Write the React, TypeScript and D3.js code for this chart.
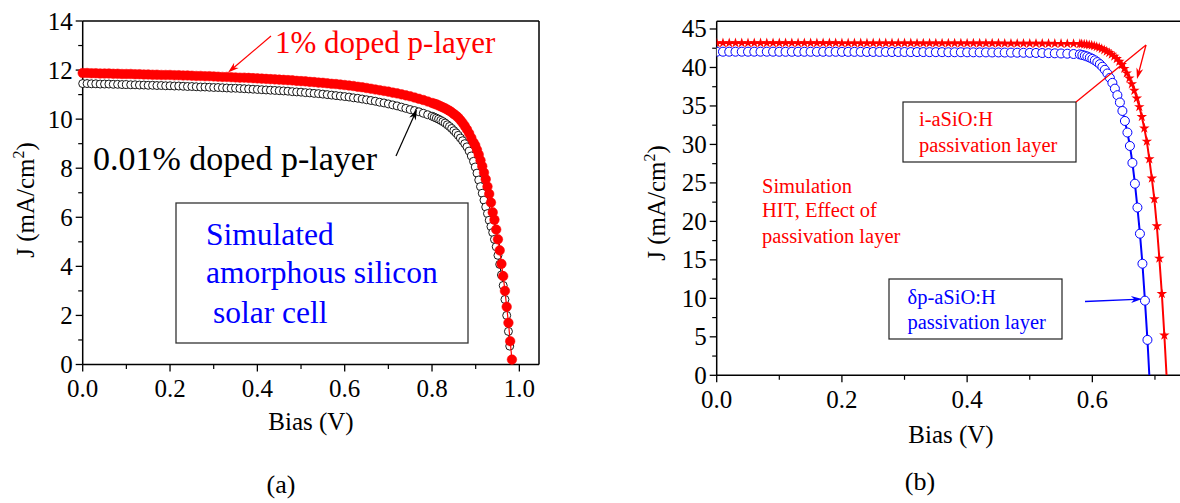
import React from "react";
import * as d3 from "d3";

// ---------------- Data ----------------
// (a) amorphous silicon cell, bias in V, J in mA/cm2
const leftVFlat = [
  0, 0.01, 0.02, 0.03, 0.04, 0.05, 0.06, 0.07, 0.08, 0.09,
  0.1, 0.11, 0.12, 0.13, 0.14, 0.15, 0.16, 0.17, 0.18, 0.19,
  0.2, 0.21, 0.22, 0.23, 0.24, 0.25, 0.26, 0.27, 0.28, 0.29,
  0.3, 0.31, 0.32, 0.33, 0.34, 0.35, 0.36, 0.37, 0.38, 0.39,
  0.4, 0.41, 0.42, 0.43, 0.44, 0.45, 0.46, 0.47, 0.48, 0.49,
  0.5, 0.51, 0.52, 0.53, 0.54, 0.55, 0.56, 0.57, 0.58, 0.59,
  0.6, 0.61, 0.62, 0.63, 0.64, 0.65, 0.66, 0.67, 0.68, 0.69,
  0.7, 0.71, 0.72, 0.73, 0.74, 0.75, 0.76, 0.77, 0.78, 0.79,
  0.8,
];
const leftVKnee = [
  0.805, 0.81, 0.815, 0.82, 0.825, 0.83, 0.835, 0.84, 0.845, 0.85,
  0.855, 0.86, 0.865, 0.87, 0.875, 0.88, 0.885, 0.89, 0.895,
];
const leftVSteep1pct = [
  0.899, 0.903, 0.907, 0.911, 0.915, 0.919, 0.923, 0.927, 0.931, 0.935,
  0.939, 0.943, 0.947, 0.951, 0.955, 0.959, 0.963, 0.967, 0.971, 0.975,
  0.979, 0.983,
];
const leftVSteep001pct = [
  0.899, 0.903, 0.907, 0.911, 0.915, 0.919, 0.923, 0.927, 0.931, 0.935,
  0.939, 0.943, 0.947, 0.951, 0.955, 0.959, 0.963, 0.967, 0.971, 0.975,
  0.978,
];
const leftJ1pct = [
  11.88, 11.88, 11.87, 11.87, 11.86, 11.86, 11.86, 11.85, 11.85, 11.84,
  11.84, 11.84, 11.83, 11.83, 11.82, 11.82, 11.81, 11.81, 11.8, 11.8,
  11.8, 11.79, 11.79, 11.78, 11.78, 11.77, 11.76, 11.76, 11.75, 11.75,
  11.74, 11.73, 11.72, 11.72, 11.71, 11.7, 11.69, 11.69, 11.68, 11.67,
  11.66, 11.65, 11.64, 11.63, 11.62, 11.61, 11.6, 11.59, 11.58, 11.56,
  11.55, 11.54, 11.52, 11.51, 11.49, 11.48, 11.46, 11.44, 11.43, 11.41,
  11.39, 11.37, 11.35, 11.32, 11.3, 11.27, 11.24, 11.21, 11.18, 11.15,
  11.12, 11.08, 11.05, 11.01, 10.97, 10.93, 10.88, 10.83, 10.78, 10.72,
  10.66,
  10.63, 10.6, 10.56, 10.52, 10.48, 10.44, 10.39, 10.34, 10.28, 10.21,
  10.14, 10.06, 9.96, 9.85, 9.72, 9.58, 9.42, 9.24, 9.05,
  8.93, 8.75, 8.55, 8.32, 8.08, 7.82, 7.55, 7.25, 6.95, 6.6,
  6.2, 5.9, 5.5, 5.1, 4.65, 4.1, 3.6, 3.0, 2.35, 1.7,
  0.95, 0.2,
];
const leftJ001pct = [
  11.45, 11.45, 11.44, 11.44, 11.43, 11.43, 11.43, 11.42, 11.42, 11.41,
  11.41, 11.4, 11.4, 11.39, 11.39, 11.38, 11.38, 11.37, 11.37, 11.36,
  11.36, 11.35, 11.35, 11.34, 11.33, 11.33, 11.32, 11.31, 11.31, 11.3,
  11.29, 11.29, 11.28, 11.27, 11.26, 11.26, 11.25, 11.24, 11.23, 11.22,
  11.21, 11.2, 11.19, 11.18, 11.17, 11.16, 11.15, 11.14, 11.12, 11.11,
  11.1, 11.08, 11.07, 11.05, 11.04, 11.02, 11.0, 10.98, 10.96, 10.94,
  10.92, 10.9, 10.87, 10.85, 10.82, 10.79, 10.76, 10.73, 10.69, 10.66,
  10.62, 10.58, 10.54, 10.49, 10.44, 10.39, 10.35, 10.3, 10.24, 10.18,
  10.12,
  10.08, 10.04, 10.0, 9.95, 9.9, 9.84, 9.77, 9.7, 9.62, 9.53,
  9.44, 9.34, 9.23, 9.12, 9.0, 8.87, 8.7, 8.5, 8.28,
  8.05, 7.8, 7.52, 7.25, 6.98, 6.7, 6.42, 6.15, 5.88, 5.62,
  5.38, 5.1, 4.8, 4.45, 4.08, 3.65, 3.22, 2.65, 2.0, 1.35,
  0.75,
];

// (b) HIT cell
const rightVFlatBlue = [
  0, 0.01, 0.02, 0.03, 0.04, 0.05, 0.06, 0.07, 0.08, 0.09,
  0.1, 0.11, 0.12, 0.13, 0.14, 0.15, 0.16, 0.17, 0.18, 0.19,
  0.2, 0.21, 0.22, 0.23, 0.24, 0.25, 0.26, 0.27, 0.28, 0.29,
  0.3, 0.31, 0.32, 0.33, 0.34, 0.35, 0.36, 0.37, 0.38, 0.39,
  0.4, 0.41, 0.42, 0.43, 0.44, 0.45, 0.46, 0.47, 0.48, 0.49,
  0.5, 0.51, 0.52, 0.53, 0.54, 0.55, 0.56, 0.57,
];
const rightVSteepBlue = [
  0.58, 0.584, 0.588, 0.592, 0.596, 0.6, 0.604, 0.608, 0.612, 0.616,
  0.62, 0.624, 0.628, 0.632, 0.636, 0.64, 0.644, 0.648, 0.652, 0.656,
  0.66, 0.664, 0.668, 0.672, 0.676, 0.68, 0.684, 0.688, 0.691,
];
const rightJBlue = [
  42.05, 42.05, 42.05, 42.05, 42.05, 42.05, 42.05, 42.05, 42.05, 42.05,
  42.04, 42.04, 42.04, 42.04, 42.04, 42.04, 42.04, 42.04, 42.04, 42.04,
  42.03, 42.03, 42.03, 42.03, 42.02, 42.02, 42.02, 42.02, 42.01, 42.01,
  42.01, 42.0, 42.0, 42.0, 41.99, 41.99, 41.99, 41.98, 41.98, 41.98,
  41.97, 41.97, 41.96, 41.96, 41.95, 41.95, 41.94, 41.93, 41.92, 41.91,
  41.9, 41.89, 41.88, 41.86, 41.84, 41.82, 41.79, 41.75,
  41.7, 41.62, 41.53, 41.42, 41.28, 41.12, 40.93, 40.7, 40.43, 40.1,
  39.7, 39.22, 38.65, 38.0, 37.25, 36.4, 35.45, 34.35, 33.05, 31.55,
  29.8, 27.6, 24.9, 21.8, 18.4, 14.5, 9.7, 4.6, 0,
];
const rightVFlatRed = [
  0, 0.01, 0.02, 0.03, 0.04, 0.05, 0.06, 0.07, 0.08, 0.09,
  0.1, 0.11, 0.12, 0.13, 0.14, 0.15, 0.16, 0.17, 0.18, 0.19,
  0.2, 0.21, 0.22, 0.23, 0.24, 0.25, 0.26, 0.27, 0.28, 0.29,
  0.3, 0.31, 0.32, 0.33, 0.34, 0.35, 0.36, 0.37, 0.38, 0.39,
  0.4, 0.41, 0.42, 0.43, 0.44, 0.45, 0.46, 0.47, 0.48, 0.49,
  0.5, 0.51, 0.52, 0.53, 0.54, 0.55, 0.56, 0.57, 0.58,
];
const rightVSteepRed = [
  0.583, 0.587, 0.591, 0.595, 0.599, 0.603, 0.607, 0.611, 0.615, 0.619,
  0.623, 0.627, 0.631, 0.635, 0.639, 0.643, 0.647, 0.651, 0.655, 0.659,
  0.663, 0.667, 0.671, 0.675, 0.679, 0.683, 0.687, 0.691, 0.695, 0.699,
  0.703, 0.707, 0.711, 0.715, 0.7185,
];
const rightJRed = [
  43.18, 43.18, 43.18, 43.18, 43.18, 43.18, 43.18, 43.18, 43.18, 43.18,
  43.18, 43.18, 43.18, 43.18, 43.18, 43.18, 43.18, 43.18, 43.18, 43.18,
  43.17, 43.17, 43.17, 43.17, 43.17, 43.17, 43.17, 43.17, 43.17, 43.17,
  43.17, 43.17, 43.16, 43.16, 43.16, 43.16, 43.16, 43.15, 43.15, 43.15,
  43.15, 43.15, 43.14, 43.14, 43.14, 43.14, 43.13, 43.13, 43.13, 43.12,
  43.12, 43.12, 43.11, 43.11, 43.1, 43.1, 43.09, 43.08, 43.07,
  43.05, 43.02, 42.98, 42.93, 42.88, 42.8, 42.7, 42.58, 42.44, 42.28,
  42.1, 41.92, 41.7, 41.44, 41.13, 40.77, 40.35, 39.85, 39.27, 38.6,
  37.85, 37.0, 36.0, 34.88, 33.6, 32.1, 30.4, 28.1, 25.6, 22.9,
  19.4, 15.2, 10.6, 5.2, 0,
];

// ticks
const leftXTicks = [0, 0.2, 0.4, 0.6, 0.8, 1.0];
const leftXMinor = [0.1, 0.3, 0.5, 0.7, 0.9];
const leftYTicks = [0, 2, 4, 6, 8, 10, 12, 14];
const leftYMinor = [1, 3, 5, 7, 9, 11, 13];
const rightXTicks = [0, 0.2, 0.4, 0.6];
const rightXMinor = [0.1, 0.3, 0.5, 0.7];
const rightYTicks = [0, 5, 10, 15, 20, 25, 30, 35, 40, 45];
const rightYMinor = [2.5, 7.5, 12.5, 17.5, 22.5, 27.5, 32.5, 37.5, 42.5];

// ---------------- Drawing ----------------
const FONT = "'Liberation Serif', 'Times New Roman', Times, serif";
const RED = "#ff0000";
const BLUE = "#0000ff";

type Pt = [number, number];
const zip = (v: number[], j: number[]): Pt[] => v.map((x, i) => [x, j[i]]);

function arrowHead(x1: number, y1: number, x2: number, y2: number, len = 11, hw = 3.5) {
  const a = Math.atan2(y2 - y1, x2 - x1);
  const c = Math.cos(a), s = Math.sin(a);
  const bx = x2 - len * c, by = y2 - len * s;
  const ix = x2 - len * 0.7 * c, iy = y2 - len * 0.7 * s;
  return `M${x2},${y2}L${bx - hw * s},${by + hw * c}L${ix},${iy}L${bx + hw * s},${by - hw * c}Z`;
}

function Arrow({ x1, y1, x2, y2, color, w = 1.2 }: any) {
  const a = Math.atan2(y2 - y1, x2 - x1);
  const ex = x2 - 7 * Math.cos(a), ey = y2 - 7 * Math.sin(a);
  return (
    <g>
      <line x1={x1} y1={y1} x2={ex} y2={ey} stroke={color} strokeWidth={w} />
      <path d={arrowHead(x1, y1, x2, y2)} fill={color} />
    </g>
  );
}

function Axes({ x, y, xTicks, xMinor, yTicks, yMinor, fmtX, fmtY, topRight }: any) {
  const [x0, x1] = x.range();
  const [y0, y1] = y.range();
  return (
    <g fontFamily={FONT} fill="#000">
      <line x1={x0} x2={x1} y1={y1} y2={y1} stroke="#000" strokeWidth={1.5} />
      {topRight && <line x1={x1} x2={x1} y1={y1} y2={y0} stroke="#000" strokeWidth={1.5} />}
      <line x1={x0} x2={x0} y1={y1} y2={y0} stroke="#000" strokeWidth={1.5} />
      <line x1={x0} x2={x1} y1={y0} y2={y0} stroke="#000" strokeWidth={1.5} />
      {xTicks.map((t: number) => (
        <g key={"xt" + t}>
          <line x1={x(t)} x2={x(t)} y1={y0} y2={y0 + 7} stroke="#000" strokeWidth={1.3} />
          <text x={x(t)} y={y0 + 32.5} fontSize={25} textAnchor="middle">{fmtX(t)}</text>
        </g>
      ))}
      {xMinor.map((t: number) => (
        <line key={"xm" + t} x1={x(t)} x2={x(t)} y1={y0} y2={y0 + 4.5} stroke="#000" strokeWidth={1.2} />
      ))}
      {yTicks.map((t: number) => (
        <g key={"yt" + t}>
          <line x1={x0 - 7} x2={x0} y1={y(t)} y2={y(t)} stroke="#000" strokeWidth={1.3} />
          <text x={x0 - 10} y={y(t) + 8.5} fontSize={25} textAnchor="end">{fmtY(t)}</text>
        </g>
      ))}
      {yMinor.map((t: number) => (
        <line key={"ym" + t} x1={x0 - 4.5} x2={x0} y1={y(t)} y2={y(t)} stroke="#000" strokeWidth={1.2} />
      ))}
    </g>
  );
}

function YLabel({ x, y }: { x: number; y: number }) {
  return (
    <text transform={`translate(${x},${y}) rotate(-90)`} textAnchor="middle" fontFamily={FONT} fontSize={25}>
      J (mA/cm<tspan dy={-10} fontSize={16}>2</tspan><tspan dy={10}>)</tspan>
    </text>
  );
}

export default function App() {
  const lx = d3.scaleLinear().domain([0, 1.045]).range([82.7, 539]);
  const ly = d3.scaleLinear().domain([0, 14]).range([364.5, 21]);
  const rx = d3.scaleLinear().domain([0, 0.74]).range([716.7, 1180]);
  const ry = d3.scaleLinear().domain([0, 46]).range([375.3, 21.3]);

  const left1 = zip([...leftVFlat, ...leftVKnee, ...leftVSteep1pct], leftJ1pct);
  const left2 = zip([...leftVFlat, ...leftVKnee, ...leftVSteep001pct], leftJ001pct);
  const rightB = zip([...rightVFlatBlue, ...rightVSteepBlue], rightJBlue);
  const rightR = zip([...rightVFlatRed, ...rightVSteepRed], rightJRed);

  const lineL = d3.line<Pt>().x((d) => lx(d[0])).y((d) => ly(d[1]));
  const lineR = d3.line<Pt>().x((d) => rx(d[0])).y((d) => ry(d[1]));
  const star = d3.symbol().type(d3.symbolStar).size(34)() as string;

  const f1 = d3.format(".1f");
  const f0 = d3.format("d");

  return (
    <svg width={1180} height={503} style={{ position: "absolute", left: 0, top: 0, background: "#fff" }}>
      <defs>
        <clipPath id="clipR">
          <rect x={716.7} y={21.3} width={1180 - 716.7} height={375.3 - 21.3} />
        </clipPath>
      </defs>
      <rect width={1180} height={503} fill="#fff" />

      {/* ---------- (a) ---------- */}
      <Axes x={lx} y={ly} xTicks={leftXTicks} xMinor={leftXMinor} yTicks={leftYTicks} yMinor={leftYMinor}
        fmtX={f1} fmtY={f0} topRight={true} />
      <YLabel x={34} y={200} />
      <text x={311} y={430} fontFamily={FONT} fontSize={25} textAnchor="middle">Bias (V)</text>
      <text x={281} y={493} fontFamily={FONT} fontSize={26} textAnchor="middle">(a)</text>

      <rect x={176} y={203} width={292} height={140} fill="none" stroke="#333" strokeWidth={1.3} />
      <g fontFamily={FONT} fontSize={31.5} fill={BLUE}>
        <text x={206} y={245}>Simulated</text>
        <text x={206} y={283}>amorphous silicon</text>
        <text x={213} y={323}>solar cell</text>
      </g>

      <path d={lineL(left2) as string} fill="none" stroke="#000" strokeWidth={1} />
      {left2.map((d, i) => (
        <circle key={"b" + i} cx={lx(d[0])} cy={ly(d[1])} r={4} fill="#fff" stroke="#000" strokeWidth={0.9} />
      ))}
      <path d={lineL(left1) as string} fill="none" stroke={RED} strokeWidth={1.2} />
      {left1.map((d, i) => (
        <circle key={"r" + i} cx={lx(d[0])} cy={ly(d[1])} r={4.8} fill={RED} stroke={RED} strokeWidth={0.5} />
      ))}

      <text x={275} y={53} fontFamily={FONT} fontSize={31} fill={RED}>1% doped p-layer</text>
      <Arrow x1={271} y1={36} x2={228} y2={72.5} color={RED} />
      <text x={93} y={170} fontFamily={FONT} fontSize={34} fill="#000">0.01% doped p-layer</text>
      <Arrow x1={396} y1={156} x2={417} y2={109} color="#000" />

      {/* ---------- (b) ---------- */}
      <Axes x={rx} y={ry} xTicks={rightXTicks} xMinor={rightXMinor} yTicks={rightYTicks} yMinor={rightYMinor}
        fmtX={f1} fmtY={f0} topRight={false} />
      <YLabel x={665} y={203} />
      <text x={951} y={443} fontFamily={FONT} fontSize={25} textAnchor="middle">Bias (V)</text>
      <text x={920} y={490} fontFamily={FONT} fontSize={26} textAnchor="middle">(b)</text>

      <g clipPath="url(#clipR)">
        <path d={lineR(rightB) as string} fill="none" stroke={BLUE} strokeWidth={2} />
        {rightB.filter((d) => d[1] > 0).map((d, i) => (
          <circle key={"rb" + i} cx={rx(d[0])} cy={ry(d[1])} r={4.5} fill="#fff" stroke={BLUE} strokeWidth={1} />
        ))}
        <path d={lineR(rightR) as string} fill="none" stroke={RED} strokeWidth={2} />
        {rightR.filter((d) => d[1] > 0).map((d, i) => (
          <path key={"rr" + i} d={star} transform={`translate(${rx(d[0])},${ry(d[1])})`} fill={RED} />
        ))}
      </g>

      <g fontFamily={FONT} fontSize={20.5} fill={RED}>
        <text x={762} y={193}>Simulation</text>
        <text x={762} y={217}>HIT, Effect of</text>
        <text x={762} y={243}>passivation layer</text>
      </g>

      <rect x={903} y={102} width={173} height={60} fill="#fff" stroke="#222" strokeWidth={1.2} />
      <g fontFamily={FONT} fontSize={20.5} fill={RED}>
        <text x={919} y={126}>i-aSiO:H</text>
        <text x={919} y={152}>passivation layer</text>
      </g>
      <line x1={1076} y1={102} x2={1146} y2={45} stroke={RED} strokeWidth={1.3} />
      <Arrow x1={1146} y1={45} x2={1137} y2={79} color={RED} w={1.3} />

      <rect x={889} y={279} width={173} height={60} fill="#fff" stroke="#222" strokeWidth={1.2} />
      <g fontFamily={FONT} fontSize={20.5} fill={BLUE}>
        <text x={907.5} y={304}>δp-aSiO:H</text>
        <text x={907.5} y={329}>passivation layer</text>
      </g>
      <Arrow x1={1085} y1={301.5} x2={1142} y2={299} color={BLUE} w={1.3} />
    </svg>
  );
}
